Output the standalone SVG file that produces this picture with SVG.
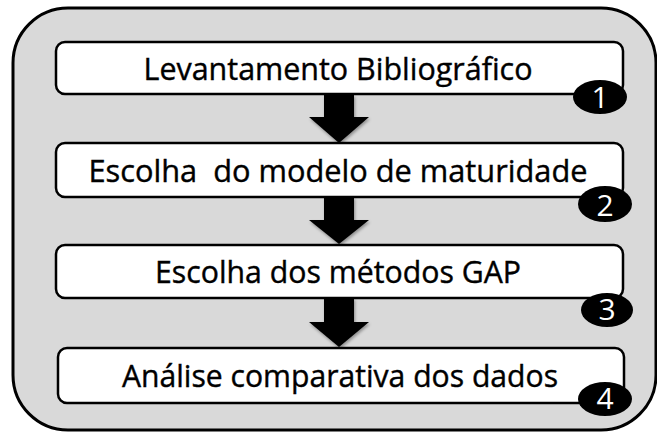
<svg xmlns="http://www.w3.org/2000/svg" width="657" height="432" viewBox="0 0 657 432">
  <defs>
    <style>
      .outer { fill: #d9d9d9; stroke: #000; stroke-width: 3; }
      .box { fill: #fff; stroke: #000; stroke-width: 2.5; }
      .label { font-family: "Open Sans", "Liberation Sans", sans-serif; font-size: 31px; fill: #000; stroke: #000; stroke-width: 0.4; text-anchor: middle; white-space: pre; }
      .badge { fill: #000; }
      .num { font-family: "Open Sans", "Liberation Sans", sans-serif; font-size: 30px; fill: #fff; text-anchor: middle; }
      .arrow { fill: #000; }
    </style>
    <filter id="sh" x="-30%" y="-30%" width="160%" height="160%">
      <feDropShadow dx="1" dy="2" stdDeviation="1.5" flood-color="#000" flood-opacity="0.35"/>
    </filter>
  </defs>

  <rect class="outer" x="13" y="8" width="643" height="422" rx="55" ry="55"/>

  <g id="connectors">
    <polygon class="arrow" filter="url(#sh)" points="324,95 354,95 354,117 369,117 339,143 309,117 324,117"/>
    <polygon class="arrow" filter="url(#sh)" points="324,197 354,197 354,220 369,220 339,244 309,220 324,220"/>
    <polygon class="arrow" filter="url(#sh)" points="324,298 354,298 354,322 369,322 339,347 309,322 324,322"/>
  </g>

  <g id="node1">
    <rect class="box" x="56" y="42" width="567" height="52" rx="9"/>
    <text class="label" x="338" y="80" textLength="389" lengthAdjust="spacingAndGlyphs">Levantamento Bibliográfico</text>
    <ellipse class="badge" cx="600" cy="97" rx="27" ry="17"/>
    <text class="num" x="600" y="108">1</text>
  </g>

  <g id="node2">
    <rect class="box" x="56" y="143" width="567" height="54" rx="9"/>
    <text class="label" x="338" y="182" textLength="499" lengthAdjust="spacingAndGlyphs">Escolha  do modelo de maturidade</text>
    <ellipse class="badge" cx="605" cy="204" rx="27" ry="18"/>
    <text class="num" x="605" y="216">2</text>
  </g>

  <g id="node3">
    <rect class="box" x="56" y="245" width="567" height="53" rx="9"/>
    <text class="label" x="338" y="283" textLength="366" lengthAdjust="spacingAndGlyphs">Escolha dos métodos GAP</text>
    <ellipse class="badge" cx="607" cy="310" rx="26" ry="17"/>
    <text class="num" x="607" y="320">3</text>
  </g>

  <g id="node4">
    <rect class="box" x="58" y="348" width="566" height="55" rx="9"/>
    <text class="label" x="340" y="387" textLength="436" lengthAdjust="spacingAndGlyphs">Análise comparativa dos dados</text>
    <ellipse class="badge" cx="605" cy="399" rx="27" ry="17"/>
    <text class="num" x="605" y="409">4</text>
  </g>
</svg>
